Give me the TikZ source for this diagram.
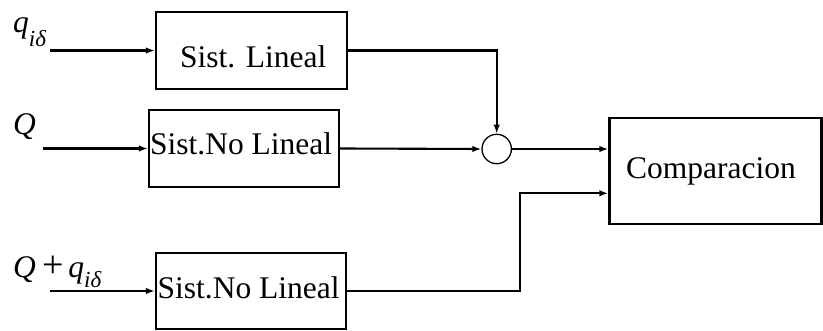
\documentclass[tikz,border=0pt]{standalone}
\usepackage{fontspec}
\setmainfont{Liberation Serif}
\usetikzlibrary{arrows.meta}
\newcommand\subid[1]{\raisebox{#1}{\fontsize{23}{26}\selectfont\itshape iδ}}
\begin{document}
\begin{tikzpicture}[x=1pt,y=1pt,
  blk/.style={draw, line width=2.3pt, inner sep=0pt, minimum width=#1},
  txt/.style={inner sep=0pt, anchor=base west, font=\fontsize{31.5}{36}\selectfont},
  lbl/.style={inner sep=0pt, anchor=base west, font=\fontsize{31.5}{36}\selectfont\itshape},
  sig/.style={line width=2.1pt, -{Latex[length=9pt,width=6.5pt]}}]
\useasboundingbox (0,0) rectangle (823,331);

% blocks
\node[blk=191pt, minimum height=77pt] (lin) at (251.5,280.5) {};
\node[blk=190pt, minimum height=77pt] (nl1) at (244,182.5) {};
\node[blk=190pt, minimum height=76pt] (nl2) at (251,40) {};
\node[blk=212pt, minimum height=106pt] (cmp) at (715.5,160) {};
\node[draw, circle, line width=1.3pt, minimum size=29.4pt, inner sep=0pt] (sum) at (496.7,182) {};

% block texts
\node[txt] (tlin) at (180,263) {Sist. Lineal};
\node[txt] (tnl1) at (150,176) {Sist.No Lineal};
\node[txt] (tnl2) at (157.5,32) {Sist.No Lineal};
\node[txt] (tcmp) at (626,152) {Comparacion};

% input labels
\node[lbl] (lq) at (13,298) {q\subid{-13.5pt}};
\node[lbl] (lQ) at (13,196) {Q};
\node[lbl] (lQq) at (13,53) {Q\kern7pt{\upshape\fontsize{38}{40}\selectfont+}\kern4pt q\subid{-10pt}};

% free ends of the inputs
\coordinate (i1) at (50,280.5);
\coordinate (i2) at (43,182.5);
\coordinate (i3) at (50,40);

% connectors
\draw[sig] (i1) -- (lin.west);
\draw[sig] (i2) -- (nl1.west);
\draw[sig] (i3) -- (nl2.west);
\draw[sig] (lin.east) -| (sum.north);
\draw[sig] (nl1.east) -- (sum.west);
\draw[sig] (sum.east) -- (sum.east -| cmp.west);
\coordinate (bend) at (520,137.7);
\draw[sig] (nl2.east) -| (bend) -- (bend -| cmp.west);
\end{tikzpicture}
\end{document}
